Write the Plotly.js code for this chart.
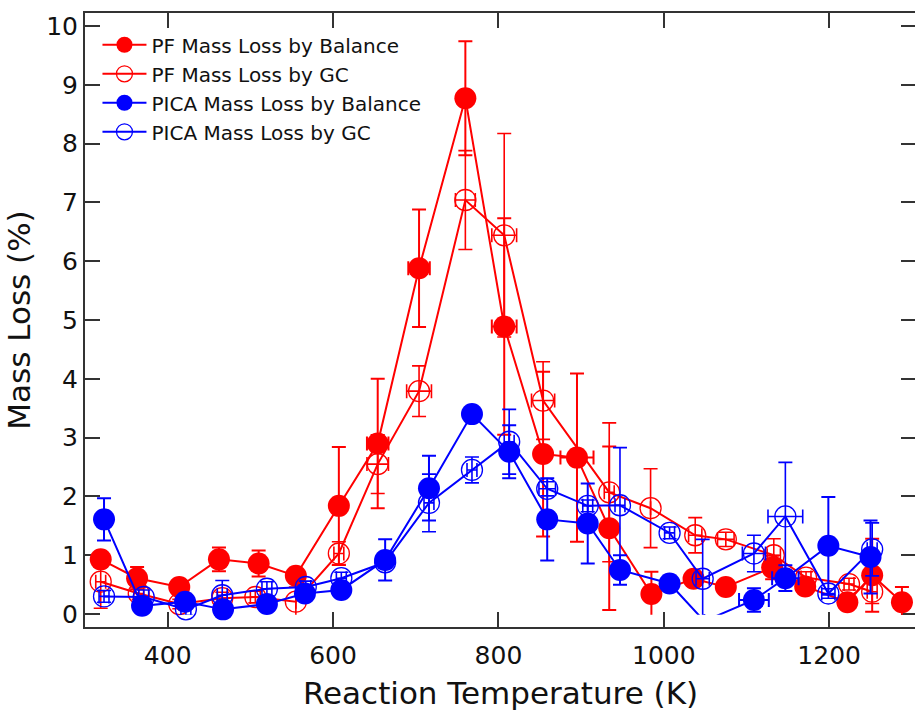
<!DOCTYPE html>
<html>
<head>
<meta charset="utf-8">
<script src="https://cdn.plot.ly/plotly-3.0.1.min.js"></script>
<style>
  html, body { margin: 0; padding: 0; background: #fff; overflow: hidden; }
  #chart { width: 930px; height: 717px; }
</style>
</head>
<body>
<div id="chart"></div>
<script>
// ---- Data ----
// PF Mass Loss by Balance
const T_PF_BAL   = [319, 363, 414, 462, 510, 555, 607, 654, 704, 760, 807, 854, 895, 934, 985, 1036, 1075, 1131, 1171, 1222, 1252, 1288];
const ML_PF_BAL  = [0.93, 0.61, 0.46, 0.93, 0.86, 0.65, 1.84, 2.90, 5.88, 8.77, 4.89, 2.72, 2.66, 1.46, 0.34, 0.60, 0.46, 0.79, 0.47, 0.20, 0.66, 0.20];
const EY_PF_BAL  = [0.10, 0.19, 0.08, 0.20, 0.22, 0.08, 1.00, 1.10, 1.00, 0.97, 1.84, 1.40, 1.43, 1.39, 0.38, 0.12, 0.08, 0.20, 0.10, 0.12, 0.62, 0.26];
const EX_PF_BAL  = [0, 0, 0, 0, 0, 0, 5, 13, 13, 8, 15, 0, 20, 0, 0, 0, 0, 0, 0, 0, 0, 0];

// PF Mass Loss by GC
const T_PF_GC    = [319, 365, 414, 466, 506, 555, 607, 654, 704, 760, 807, 854, 934, 984, 1038, 1075, 1133, 1172, 1224, 1252];
const ML_PF_GC   = [0.55, 0.35, 0.17, 0.27, 0.29, 0.21, 1.03, 2.55, 3.79, 7.04, 6.44, 3.63, 2.07, 1.80, 1.34, 1.27, 1.00, 0.62, 0.51, 0.38];
const EY_PF_GC   = [0.45, 0.10, 0.08, 0.10, 0.10, 0.25, 0.20, 0.50, 0.43, 0.84, 1.73, 0.66, 1.18, 0.67, 0.30, 0.12, 0.28, 0.10, 0.10, 0.20];
const EX_PF_GC   = [6, 6, 0, 6, 6, 0, 6, 13, 15, 12, 15, 14, 6, 0, 8, 10, 8, 6, 6, 6];

// PICA Mass Loss by Balance
const T_PICA_BAL  = [323, 369, 421, 467, 520, 566, 610, 663, 716, 768, 813, 859, 908, 947, 1007, 1049, 1109, 1147, 1199, 1250];
const ML_PICA_BAL = [1.61, 0.14, 0.21, 0.08, 0.17, 0.35, 0.41, 0.92, 2.14, 3.40, 2.76, 1.61, 1.54, 0.75, 0.52, -0.12, 0.24, 0.61, 1.16, 0.97];
const EY_PICA_BAL = [0.36, 0.08, 0.08, 0.08, 0.10, 0.10, 0.10, 0.35, 0.55, 0.05, 0.45, 0.70, 0.68, 0.25, 0.10, 0, 0.20, 0.22, 0.83, 0.62];
const EX_PICA_BAL = [0, 0, 0, 0, 0, 0, 0, 0, 0, 0, 0, 0, 0, 0, 0, 0, 18, 16, 0, 0];

// PICA Mass Loss by GC
const T_PICA_GC   = [323, 371, 422, 466, 520, 567, 610, 663, 716, 768, 813, 859, 908, 947, 1007, 1047, 1109, 1147, 1199, 1252];
const ML_PICA_GC  = [0.30, 0.29, 0.08, 0.32, 0.43, 0.46, 0.61, 0.88, 1.89, 2.45, 2.93, 2.13, 1.84, 1.85, 1.38, 0.60, 1.03, 1.66, 0.35, 1.10];
const EY_PICA_GC  = [0.10, 0.12, 0.10, 0.25, 0.12, 0.10, 0.10, 0.10, 0.49, 0.22, 0.55, 0.12, 0.10, 0.98, 0.10, 0.67, 0.31, 0.92, 0.08, 0.45];
const EX_PICA_GC  = [6, 6, 6, 6, 6, 6, 6, 6, 6, 6, 6, 10, 6, 6, 6, 8, 14, 21, 8, 6];

const SERIES_NAMES = ['PF Mass Loss by Balance', 'PF Mass Loss by GC', 'PICA Mass Loss by Balance', 'PICA Mass Loss by GC'];

// ---- Styling ----
const RED = '#ff0000', BLUE = '#0000ff';
const FONT = 'DejaVu Sans, Liberation Sans, sans-serif';
const XR = [300, 1305];
const YR = [-0.22, 10.22];
const D0 = 0.02; // data area starts slightly above the frame bottom (lines clipped at ~0)

function mk(name, x, y, ey, ex, color, filled) {
  return {
    type: 'scatter', mode: 'lines+markers', name: name,
    x: x, y: y, xaxis: 'x2', yaxis: 'y2', cliponaxis: false,
    line: { color: color, width: 2 },
    marker: filled
      ? { symbol: 'circle', size: 22, color: color, line: { width: 0 } }
      : { symbol: 'circle-open', size: 21, color: color, line: { width: 1.3, color: color } },
    error_y: { type: 'data', array: ey, visible: true, color: color, thickness: filled ? 2 : 1.6, width: 7 },
    error_x: { type: 'data', array: ex, visible: true, color: color, thickness: filled ? 2 : 1.6, width: 7 }
  };
}

const data = [
  // empty trace so the framing axes (x, y) are drawn
  { type: 'scatter', mode: 'markers', x: [], y: [], xaxis: 'x', yaxis: 'y', showlegend: false, hoverinfo: 'skip' },
  mk(SERIES_NAMES[0], T_PF_BAL, ML_PF_BAL, EY_PF_BAL, EX_PF_BAL, RED, true),
  mk(SERIES_NAMES[1], T_PF_GC, ML_PF_GC, EY_PF_GC, EX_PF_GC, RED, false),
  mk(SERIES_NAMES[2], T_PICA_BAL, ML_PICA_BAL, EY_PICA_BAL, EX_PICA_BAL, BLUE, true),
  mk(SERIES_NAMES[3], T_PICA_GC, ML_PICA_GC, EY_PICA_GC, EX_PICA_GC, BLUE, false)
];

const axisCommon = {
  showgrid: false, zeroline: false,
  showline: true, linewidth: 2, linecolor: '#333', mirror: 'ticks',
  ticks: 'inside', ticklen: 15, tickwidth: 2, tickcolor: '#333',
  tickfont: { family: FONT, size: 25, color: '#111' }
};

const layout = {
  width: 930, height: 717,
  margin: { l: 85, r: 14, t: 13, b: 90 },
  paper_bgcolor: '#fff', plot_bgcolor: 'rgba(0,0,0,0)',
  showlegend: true,
  legend: {
    x: 0.015, y: 0.98, xanchor: 'left', yanchor: 'top',
    bgcolor: 'rgba(0,0,0,0)', borderwidth: 0,
    font: { family: FONT, size: 20, color: '#111' },
    itemwidth: 44
  },
  xaxis: Object.assign({}, axisCommon, {
    range: XR, tick0: 0, dtick: 200, domain: [0, 1], anchor: 'y',
    ticklabelstandoff: 5,
    title: { text: 'Reaction Temperature (K)', font: { family: FONT, size: 31, color: '#111' }, standoff: 13 }
  }),
  yaxis: Object.assign({}, axisCommon, {
    range: YR, tick0: 0, dtick: 1, domain: [0, 1], anchor: 'x',
    title: { text: 'Mass Loss (%)', font: { family: FONT, size: 31, color: '#111' }, standoff: 6 }
  }),
  xaxis2: { range: XR, domain: [0, 1], anchor: 'y2', visible: false, showgrid: false, zeroline: false },
  yaxis2: { range: [YR[0] + D0 * (YR[1] - YR[0]), YR[1]], domain: [D0, 1], anchor: 'x2', visible: false, showgrid: false, zeroline: false }
};

Plotly.newPlot('chart', data, layout, { staticPlot: true, displayModeBar: false });
</script>
</body>
</html>
